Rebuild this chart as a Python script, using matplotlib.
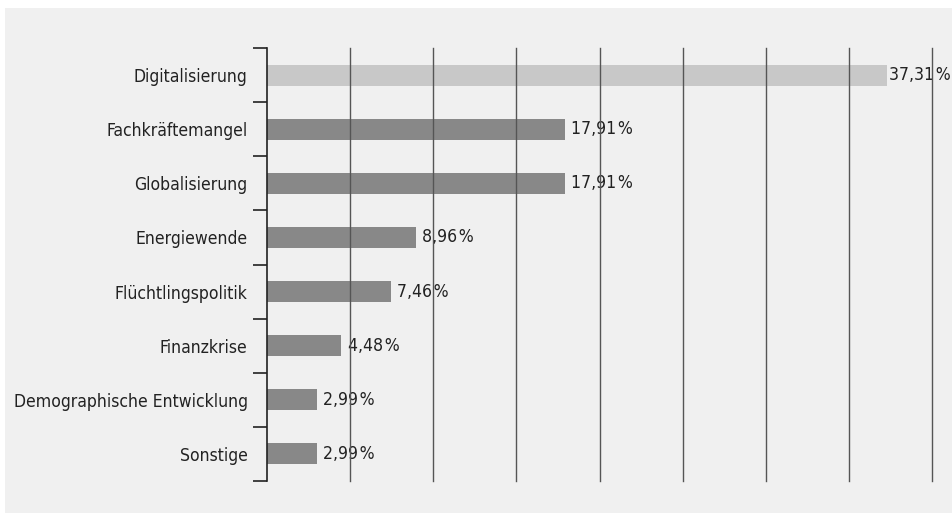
import matplotlib
matplotlib.use("Agg")
import matplotlib.pyplot as plt
from matplotlib.patches import Rectangle

# data
categories = ["Digitalisierung", "Fachkräftemangel", "Globalisierung", "Energiewende",
              "Flüchtlingspolitik", "Finanzkrise", "Demographische Entwicklung", "Sonstige"]
values = [37.31, 17.91, 17.91, 8.96, 7.46, 4.48, 2.99, 2.99]
bar_colors = ["#c8c8c8"] + ["#888888"] * 7
grid_ticks = [5, 10, 15, 20, 25, 30, 35, 40]

plt.rcParams["font.family"] = ["DejaVu Sans"]
plt.rcParams["font.stretch"] = "condensed"

fig = plt.figure(figsize=(9.52, 5.13), dpi=100, facecolor="white")

# grey panel behind the chart
fig.patches.append(Rectangle((5 / 952, 0), 1, 1 - 8 / 513, transform=fig.transFigure,
                             facecolor="#f0f0f0", edgecolor="none", zorder=-10))

ax = fig.add_axes([267 / 952, 1 - 481 / 513, (932 - 267) / 952, (481 - 48) / 513])
ax.set_facecolor("none")

pos = list(range(len(categories)))
ax.barh(pos, values, height=0.39, color=bar_colors, zorder=2)

# value labels; the long bar gets a tighter gap so its label stays inside the figure
for y, v in zip(pos, values):
    gap = 1.5 if v > 30 else 4.5
    ax.annotate(f"{v:.2f}".replace(".", ",") + "\u200a%", (v, y), xytext=(gap, 0),
                textcoords="offset points", va="center", ha="left",
                fontsize=12.6, color="#222222", zorder=1)

ax.set_xlim(0, 40)
ax.set_ylim(len(categories) - 0.5, -0.5)

for g in grid_ticks:
    ax.axvline(g, color="#555555", lw=1.0, zorder=3, clip_on=False)

ax.set_xticks([])
ax.set_yticks(pos)
ax.set_yticklabels(categories, fontsize=12.6, color="#222222")
ax.set_yticks([p - 0.5 for p in pos] + [len(pos) - 0.5], minor=True)
ax.tick_params(axis="y", which="major", length=0, pad=14)
ax.tick_params(axis="y", which="minor", length=10, width=1.2, color="#222222")

for s in ["top", "right", "bottom"]:
    ax.spines[s].set_visible(False)
ax.spines["left"].set_linewidth(1.2)
ax.spines["left"].set_color("#222222")

fig.savefig("out.png", dpi=100, facecolor=fig.get_facecolor())
